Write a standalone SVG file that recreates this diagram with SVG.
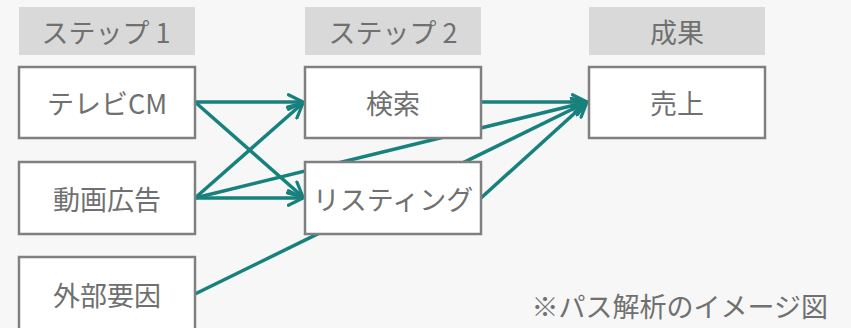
<svg xmlns="http://www.w3.org/2000/svg" width="851" height="328" viewBox="0 0 851 328">
<defs>
<style>
text{font-family:"Noto Sans CJK JP","Noto Sans",sans-serif;font-size:27px;fill:#707070;text-anchor:middle;dominant-baseline:central}
.hd{fill:#d9d9d9}
.nd{fill:#fff;stroke:#808080;stroke-width:2.5}
.c{stroke:#17817e;stroke-width:3.5;fill:none}
</style>
<marker id="a" viewBox="0 0 12 12" refX="11" refY="6" markerWidth="5" markerHeight="5" markerUnits="strokeWidth" orient="auto">
<path d="M1,1 L11,6 L1,11" fill="none" stroke="#17817e" stroke-width="2.2" stroke-linecap="round" stroke-linejoin="round"/>
</marker>
</defs>
<rect width="851" height="328" fill="#f7f7f7"/>
<g id="h1"><rect class="hd" x="19" y="7" width="176" height="48"/><text x="106" y="31">ステップ 1</text></g>
<g id="h2"><rect class="hd" x="305" y="7" width="176" height="48"/><text x="393" y="31">ステップ 2</text></g>
<g id="h3"><rect class="hd" x="589" y="7" width="176" height="48"/><text x="677" y="31">成果</text></g>
<g id="connectors">
<line class="c" x1="195" y1="102" x2="303" y2="102" marker-end="url(#a)"/>
<line class="c" x1="195" y1="102" x2="303" y2="197" marker-end="url(#a)"/>
<line class="c" x1="195" y1="198" x2="303" y2="103" marker-end="url(#a)"/>
<line class="c" x1="195" y1="198" x2="303" y2="198" marker-end="url(#a)"/>
<line class="c" x1="195" y1="198" x2="587" y2="102" marker-end="url(#a)"/>
<line class="c" x1="195" y1="294" x2="587" y2="102" marker-end="url(#a)"/>
<line class="c" x1="481" y1="102" x2="587" y2="102" marker-end="url(#a)"/>
<line class="c" x1="481" y1="198" x2="587" y2="102" marker-end="url(#a)"/>
</g>
<g id="n1"><rect class="nd" x="19" y="67" width="176" height="71"/><text x="107" y="102">テレビCM</text></g>
<g id="n2"><rect class="nd" x="19" y="162" width="176" height="72"/><text x="107" y="198">動画広告</text></g>
<g id="n3"><rect class="nd" x="19" y="257" width="176" height="74"/><text x="107" y="294">外部要因</text></g>
<g id="n4"><rect class="nd" x="305" y="67" width="176" height="71"/><text x="393" y="102">検索</text></g>
<g id="n5"><rect class="nd" x="305" y="162" width="176" height="72"/><text x="393" y="198">リスティング</text></g>
<g id="n6"><rect class="nd" x="589" y="67" width="176" height="71"/><text x="677" y="102">売上</text></g>
<text x="828" y="305" style="text-anchor:end">※パス解析のイメージ図</text>
</svg>
